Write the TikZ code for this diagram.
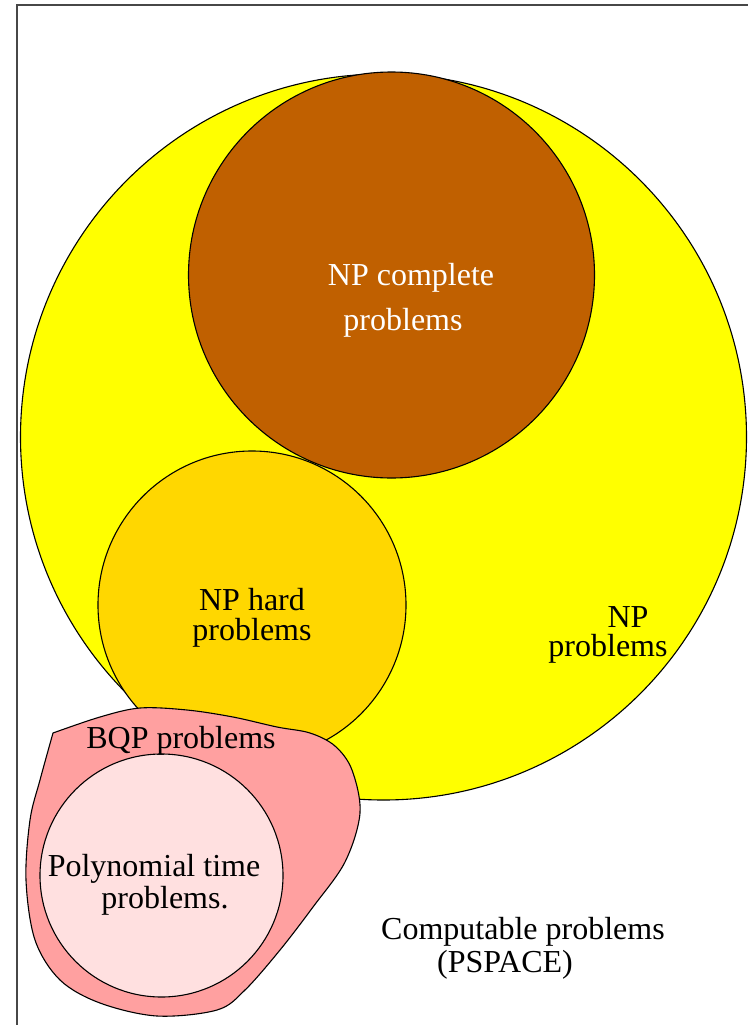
\documentclass[tikz,border=0pt]{standalone}
\usepackage{fontspec}
\setmainfont{Liberation Serif}
\begin{document}
\begin{tikzpicture}[x=1pt,y=-1pt,
  region/.style={draw=black,line width=1.1pt},
  lbl/.style={anchor=base,inner sep=0pt,font=\fontsize{32}{32}\selectfont},
  framecol/.style={draw=black!72,line width=2pt}]
  \definecolor{npyellow}{RGB}{255,255,0}
  \definecolor{npcomplete}{RGB}{192,96,0}
  \definecolor{nphard}{RGB}{255,215,0}
  \definecolor{bqp}{RGB}{255,160,160}
  \definecolor{poly}{RGB}{255,224,224}
  \useasboundingbox (0,0) rectangle (748,1025);
  \fill[white] (0,0) rectangle (748,1025);
  % outer frame: the computable problems
  \coordinate (fb) at (16.5,1025);
  \coordinate (fc) at (16.5,5.5);
  \coordinate (fr) at (748,5.5);
  \draw[framecol] (fb) -- (fc) -- (fr);
  % NP
  \filldraw[region,fill=npyellow] (383.5,437) circle [radius=363pt];
  % NP complete
  \filldraw[region,fill=npcomplete] (391.5,275) circle [radius=203pt];
  % NP hard
  \filldraw[region,fill=nphard] (252,605) circle [radius=154pt];
  % BQP
  \filldraw[region,fill=bqp] plot[smooth,tension=0.55] coordinates {
    (53,733) (100,717) (140,708) (187,710) (233,717) (277,727) (310,733)
    (335,746) (352,770) (360,813) (345,862) (313,907) (280,950) (245,990)
    (217,1010) (157,1016) (100,1003) (60,980) (35,940) (26,880) (30,820)
    (40,780) (53,733)} -- cycle;
  % polynomial time
  \filldraw[region,fill=poly] (161.5,875.5) circle [radius=121.5pt];
  % labels
  \node[lbl,text=white] (npc1) at (411,285) {NP complete};
  \node[lbl,text=white] (npc2) at (403,330) {problems};
  \node[lbl] (nph1) at (252,610) {NP hard};
  \node[lbl] (nph2) at (252,640) {problems};
  \node[lbl] (np1) at (628,627) {NP};
  \node[lbl] (np2) at (608,656) {problems};
  \node[lbl] (bqp) at (181,748) {BQP problems};
  \node[lbl] (p1) at (154,876) {Polynomial time};
  \node[lbl] (p2) at (165,908) {problems.};
  \node[lbl] (c1) at (523,939) {Computable problems};
  \node[lbl] (c2) at (505,972) {(PSPACE)};
\end{tikzpicture}
\end{document}
